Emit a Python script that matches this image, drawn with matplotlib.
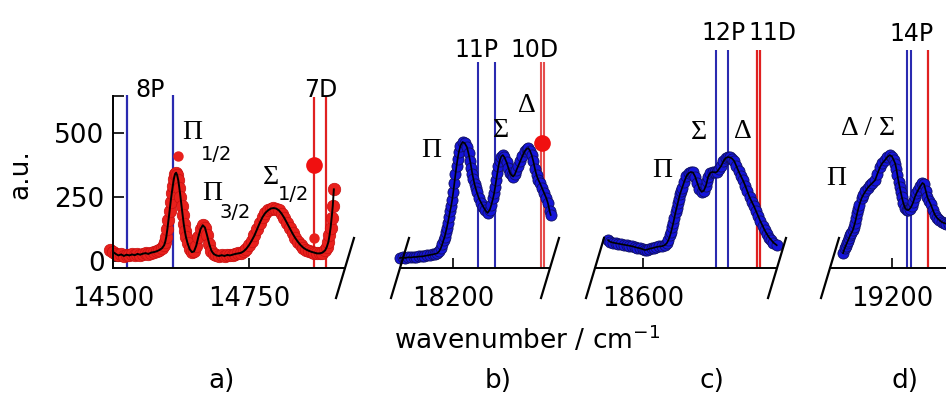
import numpy as np
import matplotlib.pyplot as plt

plt.rcParams['font.family'] = 'DejaVu Sans'
plt.rcParams['mathtext.fontset'] = 'dejavusans'

# ---- panel a) data (red points + black fit)
a_w = [14495, 14500, 14505, 14510, 14515, 14520, 14525, 14530, 14535, 14540, 14545, 14550,
       14555, 14560, 14565, 14570, 14575, 14580, 14585, 14590, 14594, 14596, 14598, 14600,
       14602, 14604, 14606, 14608, 14610, 14612, 14614, 14616, 14618, 14620, 14622, 14624,
       14626, 14628, 14630, 14632, 14634, 14637, 14641, 14645, 14649, 14653, 14657, 14661,
       14665, 14669, 14673, 14677, 14681, 14685, 14690, 14695, 14700, 14705, 14710, 14715,
       14720, 14725, 14730, 14735, 14740, 14745, 14750, 14755, 14760, 14765, 14770, 14775,
       14780, 14785, 14790, 14795, 14800, 14805, 14810, 14815, 14820, 14825, 14830, 14835,
       14840, 14845, 14850, 14855, 14860, 14865, 14870, 14875, 14880, 14885, 14890, 14893,
       14896, 14898, 14900, 14902, 14904, 14906]
a_y = [45, 36, 28, 22, 26, 20, 25, 22, 26, 23, 28, 25, 29, 31, 28, 33, 35, 38, 43, 50, 62,
       75, 95, 125, 160, 195, 232, 265, 295, 322, 340, 345, 335, 315, 285, 252, 215, 180, 145,
       118, 95, 70, 46, 35, 38, 60, 95, 125, 140, 131, 100, 66, 40, 28, 22, 20, 23, 20, 24, 22,
       25, 28, 30, 32, 38, 48, 62, 80, 100, 125, 150, 172, 188, 198, 205, 207, 205, 198, 185,
       168, 148, 128, 108, 90, 75, 62, 52, 45, 40, 36, 33, 30, 30, 33, 42, 55, 75, 100, 130,
       170, 215, 280]
a_extra_w = [14619, 14870]
a_extra_y = [410, 92]
a_big_w, a_big_y = 14870, 375
a_blue = [14526, 14610]
a_red = [14869, 14891]

# ---- panel b)
b_w = [18103, 18108, 18113, 18118, 18123, 18128, 18133, 18138, 18143, 18148, 18153, 18158,
       18163, 18167, 18171, 18175, 18178, 18181, 18183, 18185, 18187, 18189, 18191, 18193,
       18195, 18197, 18199, 18201, 18203, 18205, 18207, 18209, 18211, 18214, 18218, 18222,
       18226, 18229, 18232, 18234, 18236, 18238, 18240, 18242, 18244, 18248, 18252, 18256,
       18260, 18264, 18268, 18271, 18274, 18276, 18278, 18280, 18282, 18284, 18286, 18289,
       18292, 18295, 18299, 18302, 18305, 18308, 18311, 18314, 18317, 18320, 18324, 18328,
       18332, 18336, 18339, 18342, 18345, 18348, 18351, 18354, 18357, 18360, 18364, 18368,
       18372, 18375, 18378, 18380]
b_y = [12, 14, 12, 15, 14, 16, 16, 18, 18, 20, 22, 24, 26, 28, 30, 38, 50, 68, 82, 94, 112,
       130, 150, 172, 195, 215, 240, 270, 305, 340, 372, 400, 425, 450, 465, 460, 445, 420,
       390, 365, 340, 320, 300, 285, 270, 245, 228, 212, 198, 188, 200, 220, 245, 265, 290,
       318, 345, 370, 390, 408, 414, 405, 385, 365, 345, 335, 330, 338, 355, 370, 390, 410,
       428, 438, 441, 430, 414, 390, 360, 335, 318, 305, 285, 265, 245, 225, 195, 180]
b_big_w, b_big_y = 18364, 460
b_blue = [18246, 18277]
b_red = [18362, 18368]

# ---- panel c)
c_w = [18536, 18540, 18545, 18550, 18555, 18560, 18565, 18570, 18575, 18580, 18585, 18590,
       18595, 18600, 18604, 18608, 18612, 18616, 18620, 18625, 18630, 18635, 18640, 18644,
       18647, 18650, 18652, 18654, 18656, 18658, 18660, 18662, 18664, 18666, 18668, 18670,
       18672, 18676, 18680, 18684, 18688, 18692, 18696, 18700, 18704, 18708, 18712, 18716,
       18718, 18720, 18724, 18728, 18732, 18736, 18740, 18744, 18748, 18752, 18756, 18760,
       18764, 18768, 18772, 18776, 18780, 18784, 18788, 18792, 18796, 18800, 18804, 18808,
       18812, 18816, 18820, 18824, 18828, 18832, 18836, 18840, 18846]
c_y = [82, 75, 72, 70, 68, 66, 64, 62, 60, 58, 55, 52, 50, 46, 43, 45, 48, 50, 52, 55, 57,
       58, 62, 70, 82, 100, 115, 132, 150, 170, 190, 208, 225, 243, 260, 273, 285, 310, 332,
       343, 348, 346, 330, 305, 282, 270, 275, 295, 312, 330, 345, 348, 346, 348, 360, 372,
       390, 402, 406, 405, 400, 390, 370, 350, 332, 315, 295, 272, 250, 232, 215, 195, 175,
       155, 138, 120, 105, 92, 82, 72, 62]
c_blue = [18734, 18756]
c_red = [18810, 18815]

# ---- panel d)
d_w = [19110, 19113, 19115, 19117, 19119, 19121, 19123, 19125, 19128, 19130, 19132, 19134,
       19136, 19138, 19140, 19144, 19147, 19151, 19155, 19160, 19164, 19169, 19173, 19178,
       19182, 19187, 19191, 19196, 19200, 19203, 19206, 19208, 19210, 19212, 19214, 19216,
       19218, 19221, 19224, 19227, 19230, 19233, 19236, 19239, 19242, 19245, 19248, 19252,
       19256, 19259, 19262, 19265, 19268, 19271, 19275, 19279, 19283, 19287, 19292, 19296,
       19300, 19305, 19310]
d_y = [31, 50, 60, 70, 80, 90, 100, 108, 121, 135, 150, 168, 187, 204, 220, 245, 258, 272,
       285, 297, 305, 316, 340, 367, 382, 394, 405, 414, 408, 395, 380, 360, 335, 310, 290,
       270, 250, 225, 207, 200, 199, 205, 215, 230, 250, 265, 277, 292, 305, 300, 275, 250,
       235, 222, 200, 180, 168, 160, 152, 148, 146, 144, 142]
d_blue = [19228, 19235]
d_red = [19266]

BLUE_LINE = '#2a2ab0'
RED_LINE = '#e02020'
PT_RED = '#e8201c'
PT_BLUE = '#1515d8'

W, H = 946, 399
fig = plt.figure(figsize=(W / 100, H / 100), dpi=100)

# pixel boxes: left, right (axes bottom at y=268, top at y=50)
y_top, y_bot = 50, 268
boxes = [(113, 345), (400, 550), (595, 777), (830, 960)]
xlims = [(14500, 14926.5), (18103, 18378.7), (18512, 18846.5), (19086, 19325)]
ylim = (-27, 824)

axes = []
for (l, r), xl in zip(boxes, xlims):
    ax = fig.add_axes([l / W, 1 - y_bot / H, (r - l) / W, (y_bot - y_top) / H])
    ax.set_xlim(*xl)
    ax.set_ylim(*ylim)
    ax.patch.set_alpha(0)
    for s in ['top', 'right']:
        ax.spines[s].set_visible(False)
    ax.spines['bottom'].set_linewidth(1.4)
    ax.spines['left'].set_linewidth(1.4)
    ax.tick_params(axis='x', direction='in', length=7, width=1.2, labelsize=18.5, pad=13)
    axes.append(ax)


def brk(ax, xf, r):
    l, rr = boxes[r]
    dx = 9 / (rr - l)
    dy = 30 / (y_bot - y_top)
    ax.plot([xf - dx, xf + dx], [-dy, dy], transform=ax.transAxes, color='k', lw=1.6,
            clip_on=False)


serif = 'Liberation Serif'
GK = 20

# panel a
ax = axes[0]
ax.spines['left'].set_bounds(-27, 645)
ax.set_yticks([0, 250, 500, 645])
ax.set_yticklabels(['0', '250', '500', ''])
ax.tick_params(axis='y', direction='in', length=8, width=1.2, labelsize=19, pad=6)
ax.set_xticks([14500, 14750])
ax.set_ylabel('a.u.', fontsize=19, labelpad=2)
ax.yaxis.set_label_coords(-0.345, 0.43)
ax.vlines(a_blue, -27, 648, color=BLUE_LINE, lw=1.6)
ax.vlines(a_red, -27, 640, color=RED_LINE, lw=1.6)
ax.plot(a_w, a_y, 'o', color=PT_RED, ms=9, mec='#c81010', mew=0.5, clip_on=False)
ax.plot(a_extra_w, a_extra_y, 'o', color=PT_RED, ms=7.5, mec='none')
ax.plot(a_w, a_y, '-', color='k', lw=1.4)
ax.plot([a_big_w], [a_big_y], 'o', color='#f01010', ms=12, mec='none')
ax.text(14568, 668, '8P', fontsize=17, ha='center', va='center')
ax.text(14882, 668, '7D', fontsize=17, ha='center', va='center')
ax.text(14646, 500, 'Π', family=serif, fontsize=GK, ha='center', va='center')
ax.text(14661, 418, '1/2', fontsize=14, ha='left', va='center')
ax.text(14683, 262, 'Π', family=serif, fontsize=GK, ha='center', va='center')
ax.text(14695, 190, '3/2', fontsize=14, ha='left', va='center')
ax.text(14790, 326, 'Σ', family=serif, fontsize=GK, ha='center', va='center')
ax.text(14804, 258, '1/2', fontsize=14, ha='left', va='center')
brk(ax, 1.0, 0)

# panel b
ax = axes[1]
ax.spines['left'].set_visible(False)
ax.set_yticks([])
ax.set_xticks([18200])
ax.vlines(b_blue, -27, 777, color=BLUE_LINE, lw=1.5)
ax.vlines(b_red, -27, 777, color=RED_LINE, lw=1.5, alpha=0.8)
ax.plot(b_w, b_y, 'o', color=PT_BLUE, ms=8, mec='#101060', mew=0.6, clip_on=False)
ax.plot(b_w, b_y, '-', color='k', lw=1.2, clip_on=False)
ax.plot([b_big_w], [b_big_y], 'o', color='#f01010', ms=12, mec='none')
ax.text(18244, 824, '11P', fontsize=17, ha='center', va='center')
ax.text(18351, 824, '10D', fontsize=17, ha='center', va='center')
ax.text(18160, 430, 'Π', family=serif, fontsize=GK, ha='center', va='center')
ax.text(18288, 508, 'Σ', family=serif, fontsize=GK, ha='center', va='center')
ax.text(18336, 609, 'Δ', family=serif, fontsize=GK, ha='center', va='center')
brk(ax, 0.0, 1)
brk(ax, 1.0, 1)

# panel c
ax = axes[2]
ax.spines['left'].set_visible(False)
ax.set_yticks([])
ax.set_xticks([18600])
ax.vlines(c_blue, -27, 824, color=BLUE_LINE, lw=1.5)
ax.vlines(c_red, -27, 824, color=RED_LINE, lw=1.6)
ax.plot(c_w, c_y, 'o', color=PT_BLUE, ms=8, mec='#101060', mew=0.6, clip_on=False)
ax.plot(c_w, c_y, '-', color='k', lw=1.2, clip_on=False)
ax.text(18748, 890, '12P', fontsize=17, ha='center', va='center')
ax.text(18838, 890, '11D', fontsize=17, ha='center', va='center')
ax.text(18635, 352, 'Π', family=serif, fontsize=GK, ha='center', va='center')
ax.text(18703, 500, 'Σ', family=serif, fontsize=GK, ha='center', va='center')
ax.text(18784, 504, 'Δ', family=serif, fontsize=GK, ha='center', va='center')
brk(ax, 0.0, 2)
brk(ax, 1.0, 2)

# panel d
ax = axes[3]
ax.spines['left'].set_visible(False)
ax.set_yticks([])
ax.set_xticks([19200])
ax.vlines(d_blue, -27, 824, color=BLUE_LINE, lw=1.5)
ax.vlines(d_red, -27, 824, color=RED_LINE, lw=1.6)
ax.plot(d_w, d_y, 'o', color=PT_BLUE, ms=8, mec='#101060', mew=0.6)
ax.plot(d_w, d_y, '-', color='k', lw=1.2)
ax.text(19235, 886, '14P', fontsize=17, ha='center', va='center')
ax.text(19098, 324, 'Π', family=serif, fontsize=GK, ha='center', va='center')
ax.text(19156, 516, 'Δ / Σ', family=serif, fontsize=GK, ha='center', va='center')
brk(ax, 0.0, 3)

fig.text(527 / W, 1 - 340 / H, 'wavenumber / cm$^{-1}$', fontsize=19, ha='center', va='center')
for lab, xp in zip(['a)', 'b)', 'c)', 'd)'], [222, 498, 712, 905]):
    fig.text(xp / W, 1 - 381 / H, lab, fontsize=19, ha='center', va='center')

fig.savefig('out.png', dpi=100)
